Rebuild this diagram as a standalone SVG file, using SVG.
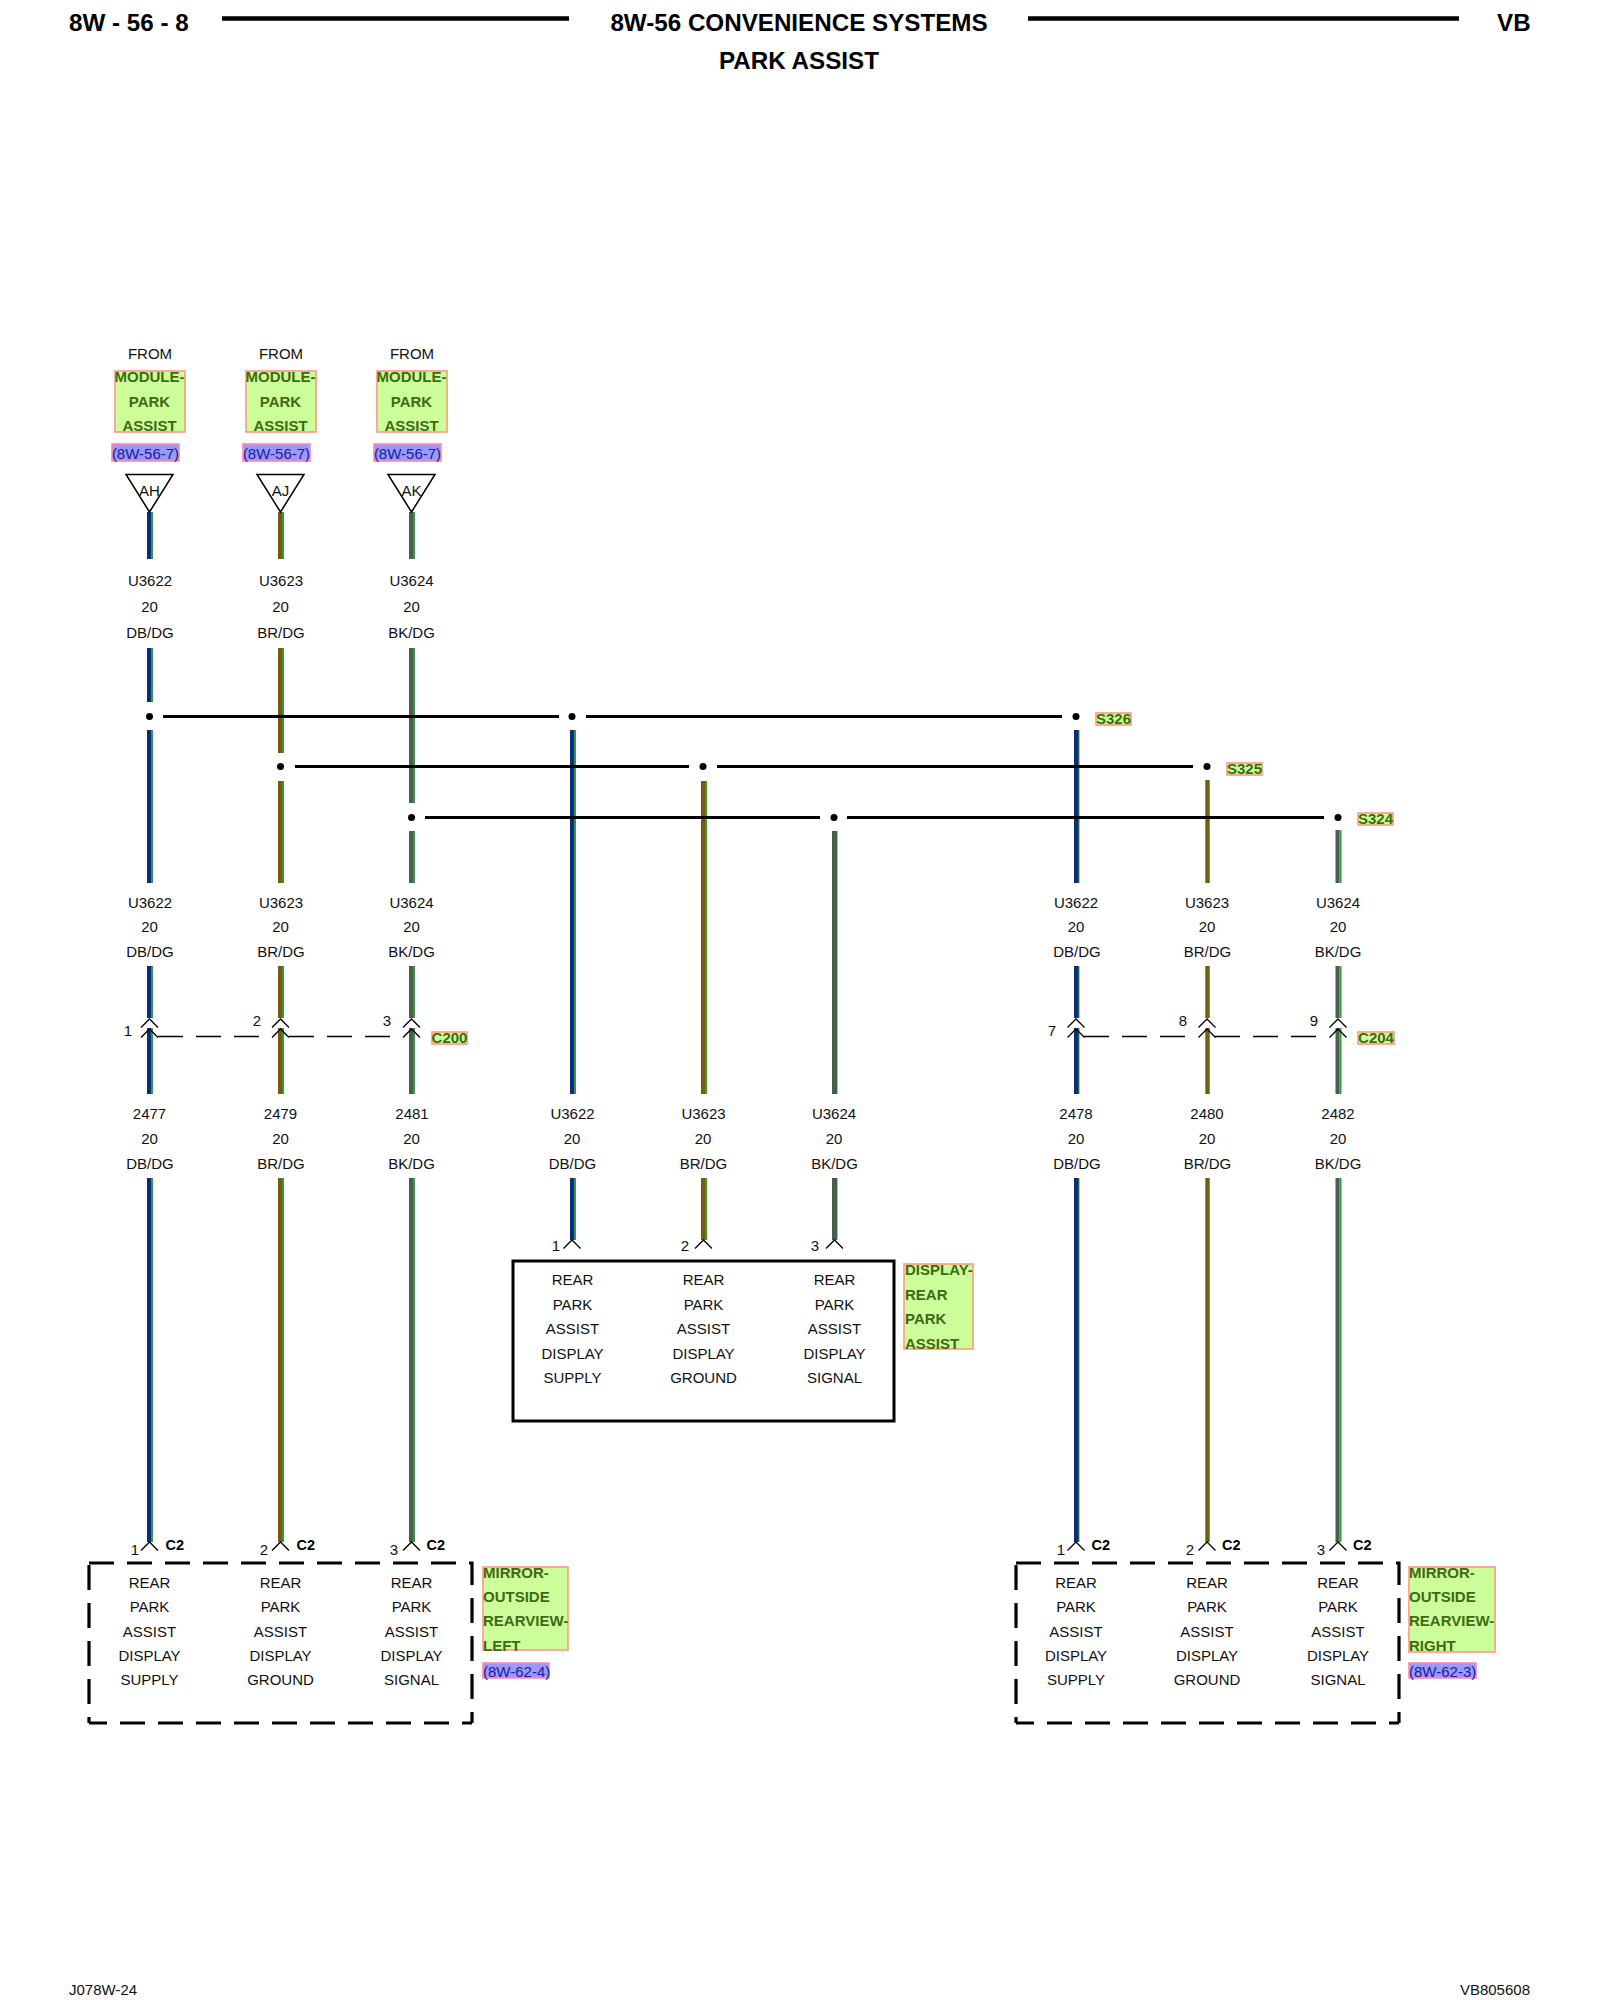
<svg xmlns="http://www.w3.org/2000/svg" xmlns:xlink="http://www.w3.org/1999/xlink" width="1600" height="2000" viewBox="0 0 1600 2000">
<style>
text{font-family:"Liberation Sans",Arial,sans-serif;font-size:15px;fill:#111}
.c{text-anchor:middle}
.h{font-weight:bold;font-size:24.2px;fill:#000}
.b{font-weight:bold;fill:#000;font-size:14.5px}
.g{font-weight:bold;fill:#3f6a12}
.r{fill:#1c1c96}
.lb{fill:#ccff99;stroke:#ff9980;stroke-width:1.6}
.rf{fill:#9999ff;stroke:#ff88a8;stroke-width:1.6}
.wire{fill:none}
.db{stroke:#0b2c80;stroke-width:4}
.br{stroke:#7a5a08;stroke-width:4}
.ol{stroke:#6e6206;stroke-width:4.4}
.bk{stroke:#4f5a52;stroke-width:4}
.st{stroke:#2f9a3e;stroke-width:2}
.sd{stroke:#2f6a38;stroke-width:1.4}
.bus{stroke:#000;stroke-width:3;fill:none}
.ch{stroke:#000;stroke-width:1.3;fill:none}
.dash{stroke:#000;stroke-width:1.4;stroke-dasharray:25 13;fill:none}
.tri{fill:#fff;stroke:#000;stroke-width:1.5}
.dbox{stroke:#000;stroke-width:3.2;stroke-dasharray:25 13;fill:none}
.solid{fill:none;stroke:#000;stroke-width:3}
.hl{stroke:#000;stroke-width:4.5}
</style>
<defs>
<path id="chev" class="ch" d="M-8.5 8.5L0 0L8.5 8.5"/>
<circle id="dot" r="3.5" fill="#000"/>
</defs>

<g id="header">
<text class="h" x="69" y="31">8W - 56 - 8</text>
<line class="hl" x1="222" y1="18.500" x2="569" y2="18.500"/>
<text class="h c" x="799" y="31">8W-56 CONVENIENCE SYSTEMS</text>
<line class="hl" x1="1028" y1="18.500" x2="1459" y2="18.500"/>
<text class="h" x="1497" y="31">VB</text>
<text class="h c" x="799" y="69">PARK ASSIST</text>
</g>

<g id="connectors">
<path class="wire db" d="M149 512V559M149 648V702M149 730V883M149 966V1018M149 1028V1094M149 1178V1542"/>
<path class="wire st" d="M152 512V559M152 648V702M152 730V883M152 966V1018M152 1028V1094M152 1178V1542"/>
<path class="wire br" d="M280 512V559M280 648V753M280 781V883M280 966V1018M280 1028V1094M280 1178V1542"/>
<path class="wire st" d="M283 512V559M283 648V753M283 781V883M283 966V1018M283 1028V1094M283 1178V1542"/>
<path class="wire bk" d="M411 512V559M411 648V803M411 831V883M411 966V1018M411 1028V1094M411 1178V1542"/>
<path class="wire st" d="M414 512V559M414 648V803M414 831V883M414 966V1018M414 1028V1094M414 1178V1542"/>
<path class="wire db" d="M572 730V1094M572 1178V1240"/>
<path class="wire st" d="M575 730V1094M575 1178V1240"/>
<path class="wire br" d="M703 781V1094M703 1178V1240"/>
<path class="wire st" d="M706 781V1094M706 1178V1240"/>
<path class="wire bk" d="M834 831V1094M834 1178V1240"/>
<path class="wire sd" d="M836.700 831V1094M836.700 1178V1240"/>
<path class="wire db" d="M1076 730V883M1076 966V1018M1076 1028V1094M1076 1178V1542"/>
<path class="wire sd" d="M1078.700 730V883M1078.700 966V1018M1078.700 1028V1094M1078.700 1178V1542"/>
<path class="wire ol" d="M1207.500 780V883M1207.500 966V1018M1207.500 1028V1094M1207.500 1178V1542"/>
<path class="wire bk" d="M1337.500 830V883M1337.500 966V1018M1337.500 1028V1094M1337.500 1178V1542"/>
<path class="wire st" d="M1340.500 830V883M1340.500 966V1018M1340.500 1028V1094M1340.500 1178V1542"/>
<path class="bus" d="M163 716.500H559M586 716.500H1062"/>
<path class="bus" d="M295 766.500H689M717 766.500H1193"/>
<path class="bus" d="M425 817.500H820M847 817.500H1324"/>
<path class="dash" d="M158 1036.500H259M289 1036.500H390M1084 1036.500H1185M1215 1036.500H1316"/>
</g>

<g id="splices">
<use href="#dot" x="149.500" y="716.500"/><use href="#dot" x="572" y="716.500"/><use href="#dot" x="1076" y="716.500"/>
<use href="#dot" x="280.500" y="766.500"/><use href="#dot" x="703" y="766.500"/><use href="#dot" x="1207" y="766.500"/>
<use href="#dot" x="411.500" y="817.500"/><use href="#dot" x="834" y="817.500"/><use href="#dot" x="1338" y="817.500"/>
<rect class="lb" x="1096" y="713" width="35" height="12"/><text class="g c" x="1113.500" y="724">S326</text>
<rect class="lb" x="1227" y="763" width="35" height="12"/><text class="g c" x="1244.500" y="774">S325</text>
<rect class="lb" x="1358" y="813" width="35" height="12"/><text class="g c" x="1375.500" y="824">S324</text>
</g>

<g id="from-ah">
<text class="c" x="150" y="359">FROM</text>
<rect class="lb" x="115" y="371" width="70" height="61"/>
<text class="g c" x="149.500" y="382">MODULE-</text><text class="g c" x="149.500" y="407">PARK</text><text class="g c" x="149.500" y="431">ASSIST</text>
<rect class="rf" x="112" y="444" width="67" height="17"/><text class="r c" x="145.500" y="459">(8W-56-7)</text>
<polygon class="tri" points="126,474.500 173,474.500 149.500,512"/><text class="c" x="149.500" y="496">AH</text>
</g>
<g id="from-aj">
<text class="c" x="281" y="359">FROM</text>
<rect class="lb" x="246" y="371" width="70" height="61"/>
<text class="g c" x="280.500" y="382">MODULE-</text><text class="g c" x="280.500" y="407">PARK</text><text class="g c" x="280.500" y="431">ASSIST</text>
<rect class="rf" x="243" y="444" width="67" height="17"/><text class="r c" x="276.500" y="459">(8W-56-7)</text>
<polygon class="tri" points="257,474.500 304,474.500 280.500,512"/><text class="c" x="280.500" y="496">AJ</text>
</g>
<g id="from-ak">
<text class="c" x="412" y="359">FROM</text>
<rect class="lb" x="377" y="371" width="70" height="61"/>
<text class="g c" x="411.500" y="382">MODULE-</text><text class="g c" x="411.500" y="407">PARK</text><text class="g c" x="411.500" y="431">ASSIST</text>
<rect class="rf" x="374" y="444" width="67" height="17"/><text class="r c" x="407.500" y="459">(8W-56-7)</text>
<polygon class="tri" points="388,474.500 435,474.500 411.500,512"/><text class="c" x="411.500" y="496">AK</text>
</g>

<g id="wire-labels-top">
<text class="c" x="150" y="586">U3622</text><text class="c" x="149.500" y="612">20</text><text class="c" x="150" y="638">DB/DG</text>
<text class="c" x="281" y="586">U3623</text><text class="c" x="280.500" y="612">20</text><text class="c" x="281" y="638">BR/DG</text>
<text class="c" x="411.500" y="586">U3624</text><text class="c" x="411.500" y="612">20</text><text class="c" x="411.500" y="638">BK/DG</text>
</g>
<g id="wire-labels-mid">
<text class="c" x="150" y="908">U3622</text><text class="c" x="149.500" y="932">20</text><text class="c" x="150" y="957">DB/DG</text>
<text class="c" x="281" y="908">U3623</text><text class="c" x="280.500" y="932">20</text><text class="c" x="281" y="957">BR/DG</text>
<text class="c" x="411.500" y="908">U3624</text><text class="c" x="411.500" y="932">20</text><text class="c" x="411.500" y="957">BK/DG</text>
<text class="c" x="1076" y="908">U3622</text><text class="c" x="1076" y="932">20</text><text class="c" x="1077" y="957">DB/DG</text>
<text class="c" x="1207" y="908">U3623</text><text class="c" x="1207" y="932">20</text><text class="c" x="1207.500" y="957">BR/DG</text>
<text class="c" x="1338" y="908">U3624</text><text class="c" x="1338" y="932">20</text><text class="c" x="1338" y="957">BK/DG</text>
</g>
<g id="wire-labels-low">
<text class="c" x="149.500" y="1119">2477</text><text class="c" x="149.500" y="1144">20</text><text class="c" x="150" y="1169">DB/DG</text>
<text class="c" x="280.500" y="1119">2479</text><text class="c" x="280.500" y="1144">20</text><text class="c" x="281" y="1169">BR/DG</text>
<text class="c" x="412" y="1119">2481</text><text class="c" x="411.500" y="1144">20</text><text class="c" x="411.500" y="1169">BK/DG</text>
<text class="c" x="572.500" y="1119">U3622</text><text class="c" x="572" y="1144">20</text><text class="c" x="572.500" y="1169">DB/DG</text>
<text class="c" x="703.500" y="1119">U3623</text><text class="c" x="703" y="1144">20</text><text class="c" x="703.500" y="1169">BR/DG</text>
<text class="c" x="834" y="1119">U3624</text><text class="c" x="834" y="1144">20</text><text class="c" x="834.500" y="1169">BK/DG</text>
<text class="c" x="1076" y="1119">2478</text><text class="c" x="1076" y="1144">20</text><text class="c" x="1077" y="1169">DB/DG</text>
<text class="c" x="1207" y="1119">2480</text><text class="c" x="1207" y="1144">20</text><text class="c" x="1207.500" y="1169">BR/DG</text>
<text class="c" x="1338" y="1119">2482</text><text class="c" x="1338" y="1144">20</text><text class="c" x="1338" y="1169">BK/DG</text>
</g>

<g id="c200">
<use href="#chev" x="149.500" y="1019"/><use href="#chev" x="149.500" y="1029"/>
<use href="#chev" x="280.500" y="1019"/><use href="#chev" x="280.500" y="1029"/>
<use href="#chev" x="411.500" y="1019"/><use href="#chev" x="411.500" y="1029"/>
<text class="c" x="128" y="1036">1</text><text class="c" x="257" y="1026">2</text><text class="c" x="387" y="1026">3</text>
<rect class="lb" x="432" y="1032" width="35" height="12"/><text class="g c" x="449.500" y="1043">C200</text>
</g>
<g id="c204">
<use href="#chev" x="1076" y="1019"/><use href="#chev" x="1076" y="1029"/>
<use href="#chev" x="1207" y="1019"/><use href="#chev" x="1207" y="1029"/>
<use href="#chev" x="1338" y="1019"/><use href="#chev" x="1338" y="1029"/>
<text class="c" x="1052" y="1036">7</text><text class="c" x="1183" y="1026">8</text><text class="c" x="1314" y="1026">9</text>
<rect class="lb" x="1358" y="1032" width="36" height="12"/><text class="g c" x="1376" y="1043">C204</text>
</g>

<g id="display-rear-park-assist">
<use href="#chev" x="572" y="1240"/><use href="#chev" x="703.500" y="1240"/><use href="#chev" x="834.500" y="1240"/>
<text class="c" x="556" y="1251">1</text><text class="c" x="685" y="1251">2</text><text class="c" x="815" y="1251">3</text>
<rect class="solid" x="513" y="1261" width="381" height="160"/>
<text class="c" x="572.500" y="1285">REAR</text><text class="c" x="572.500" y="1310">PARK</text><text class="c" x="572.500" y="1334">ASSIST</text><text class="c" x="572.500" y="1359">DISPLAY</text><text class="c" x="572.500" y="1383">SUPPLY</text>
<text class="c" x="703.500" y="1285">REAR</text><text class="c" x="703.500" y="1310">PARK</text><text class="c" x="703.500" y="1334">ASSIST</text><text class="c" x="703.500" y="1359">DISPLAY</text><text class="c" x="703.500" y="1383">GROUND</text>
<text class="c" x="834.500" y="1285">REAR</text><text class="c" x="834.500" y="1310">PARK</text><text class="c" x="834.500" y="1334">ASSIST</text><text class="c" x="834.500" y="1359">DISPLAY</text><text class="c" x="834.500" y="1383">SIGNAL</text>
<rect class="lb" x="904" y="1264" width="69" height="85"/>
<text class="g" x="905" y="1275">DISPLAY-</text><text class="g" x="905" y="1300">REAR</text><text class="g" x="905" y="1324">PARK</text><text class="g" x="905" y="1349">ASSIST</text>
</g>

<g id="mirror-left">
<use href="#chev" x="149.500" y="1542"/><use href="#chev" x="280.500" y="1542"/><use href="#chev" x="411.500" y="1542"/>
<text class="c" x="135" y="1555">1</text><text class="c" x="264" y="1555">2</text><text class="c" x="394" y="1555">3</text>
<text class="b" x="165.500" y="1550">C2</text><text class="b" x="296.500" y="1550">C2</text><text class="b" x="426.500" y="1550">C2</text>
<path class="dbox" d="M89 1563H472V1723M89 1565V1723"/>
<path class="dbox" stroke-dashoffset="7" d="M89 1723H472"/>
<text class="c" x="149.500" y="1588">REAR</text><text class="c" x="149.500" y="1612">PARK</text><text class="c" x="149.500" y="1637">ASSIST</text><text class="c" x="149.500" y="1661">DISPLAY</text><text class="c" x="149.500" y="1685">SUPPLY</text>
<text class="c" x="280.500" y="1588">REAR</text><text class="c" x="280.500" y="1612">PARK</text><text class="c" x="280.500" y="1637">ASSIST</text><text class="c" x="280.500" y="1661">DISPLAY</text><text class="c" x="280.500" y="1685">GROUND</text>
<text class="c" x="411.500" y="1588">REAR</text><text class="c" x="411.500" y="1612">PARK</text><text class="c" x="411.500" y="1637">ASSIST</text><text class="c" x="411.500" y="1661">DISPLAY</text><text class="c" x="411.500" y="1685">SIGNAL</text>
<rect class="lb" x="483" y="1567" width="85" height="83"/>
<text class="g" x="483" y="1578">MIRROR-</text><text class="g" x="483" y="1602">OUTSIDE</text><text class="g" x="483" y="1626">REARVIEW-</text><text class="g" x="483" y="1650.500">LEFT</text>
<rect class="rf" x="483" y="1663" width="66" height="15"/><text class="r" x="483" y="1677">(8W-62-4)</text>
</g>

<g id="mirror-right">
<use href="#chev" x="1076" y="1542"/><use href="#chev" x="1207" y="1542"/><use href="#chev" x="1338" y="1542"/>
<text class="c" x="1061" y="1555">1</text><text class="c" x="1190" y="1555">2</text><text class="c" x="1321" y="1555">3</text>
<text class="b" x="1091.500" y="1550">C2</text><text class="b" x="1222" y="1550">C2</text><text class="b" x="1353" y="1550">C2</text>
<path class="dbox" d="M1016 1563H1399V1723M1016 1565V1723"/>
<path class="dbox" stroke-dashoffset="7" d="M1016 1723H1399"/>
<text class="c" x="1076" y="1588">REAR</text><text class="c" x="1076" y="1612">PARK</text><text class="c" x="1076" y="1637">ASSIST</text><text class="c" x="1076" y="1661">DISPLAY</text><text class="c" x="1076" y="1685">SUPPLY</text>
<text class="c" x="1207" y="1588">REAR</text><text class="c" x="1207" y="1612">PARK</text><text class="c" x="1207" y="1637">ASSIST</text><text class="c" x="1207" y="1661">DISPLAY</text><text class="c" x="1207" y="1685">GROUND</text>
<text class="c" x="1338" y="1588">REAR</text><text class="c" x="1338" y="1612">PARK</text><text class="c" x="1338" y="1637">ASSIST</text><text class="c" x="1338" y="1661">DISPLAY</text><text class="c" x="1338" y="1685">SIGNAL</text>
<rect class="lb" x="1409" y="1567" width="86" height="85"/>
<text class="g" x="1409" y="1578">MIRROR-</text><text class="g" x="1409" y="1602">OUTSIDE</text><text class="g" x="1409" y="1626">REARVIEW-</text><text class="g" x="1409" y="1650.500">RIGHT</text>
<rect class="rf" x="1409" y="1663" width="67" height="15"/><text class="r" x="1409" y="1677">(8W-62-3)</text>
</g>

<g id="footer">
<text x="69" y="1995">J078W-24</text>
<text x="1530" y="1995" text-anchor="end">VB805608</text>
</g>
</svg>
